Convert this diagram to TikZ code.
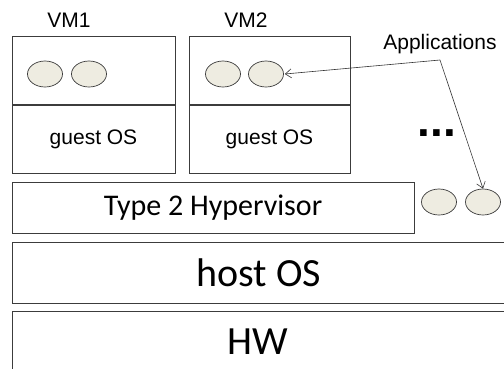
\documentclass[tikz,border=0pt]{standalone}
\usepackage{fontspec}
\setmainfont{Liberation Sans}
\newfontfamily\calib{Carlito}
\usetikzlibrary{shapes.geometric,arrows.meta}
\definecolor{appfill}{HTML}{EEECE1}
\definecolor{edge}{HTML}{3C3C3C}
\begin{document}
\begin{tikzpicture}[x=1pt,y=-1pt,
  layer/.style={draw=edge,line width=0.8pt,rectangle,inner sep=0pt},
  app/.style={draw=edge,fill=appfill,ellipse,line width=0.7pt,minimum width=35pt,minimum height=26pt,inner sep=0pt},
  arial/.style={font=\fontsize{21}{25}\selectfont},
  calibri/.style={font=\calib\fontsize{30}{36}\selectfont},
  big/.style={font=\calib\fontsize{40}{48}\selectfont},
  pointer/.style={draw=black!80,line width=0.6pt,-{Straight Barb[length=6pt,width=9pt]}}]
\useasboundingbox (0,0) rectangle (504,368);
% VM boxes
\node[layer,minimum width=163pt,minimum height=68pt] (vm1top) at (93.5,70) {};
\node[layer,arial,minimum width=163pt,minimum height=68pt] (vm1bot) at (93.5,139) {guest OS};
\node[layer,minimum width=161pt,minimum height=68pt] (vm2top) at (269.5,70) {};
\node[layer,arial,minimum width=161pt,minimum height=68pt] (vm2bot) at (269.5,139) {guest OS};
\node[arial] (vm1lab) at (69,20) {VM1};
\node[arial] (vm2lab) at (246,20) {VM2};
% apps
\node[app] (a11) at (45,74) {};
\node[app] (a12) at (89,74) {};
\node[app] (a21) at (223,74) {};
\node[app] (a22) at (266,74) {};
\node[app] (a31) at (439,202) {};
\node[app] (a32) at (483,202) {};
% layers
\node[layer,calibri,minimum width=402pt,minimum height=51pt] (hyp) at (213,207.5) {Type 2 Hypervisor};
\node[layer,minimum width=498pt,minimum height=61pt] (host) at (261,272.5) {};
\node[big] (hostlab) at (259,273) {host OS};
\node[layer,minimum width=498pt,minimum height=69pt] (hw) at (261,345.5) {};
\node[big] (hwlab) at (258,342) {HW};
% labels and arrows
\node[arial] (apps) at (440,44) {Applications};
\node[font=\bfseries\fontsize{46}{50}\selectfont] (dots) at (437,133) {...};
\coordinate (hub) at (440,60);
\draw[pointer] (hub) -- ([xshift=1pt]a22.east);
\draw[pointer] (hub) -- (a32.north);
\end{tikzpicture}
\end{document}
